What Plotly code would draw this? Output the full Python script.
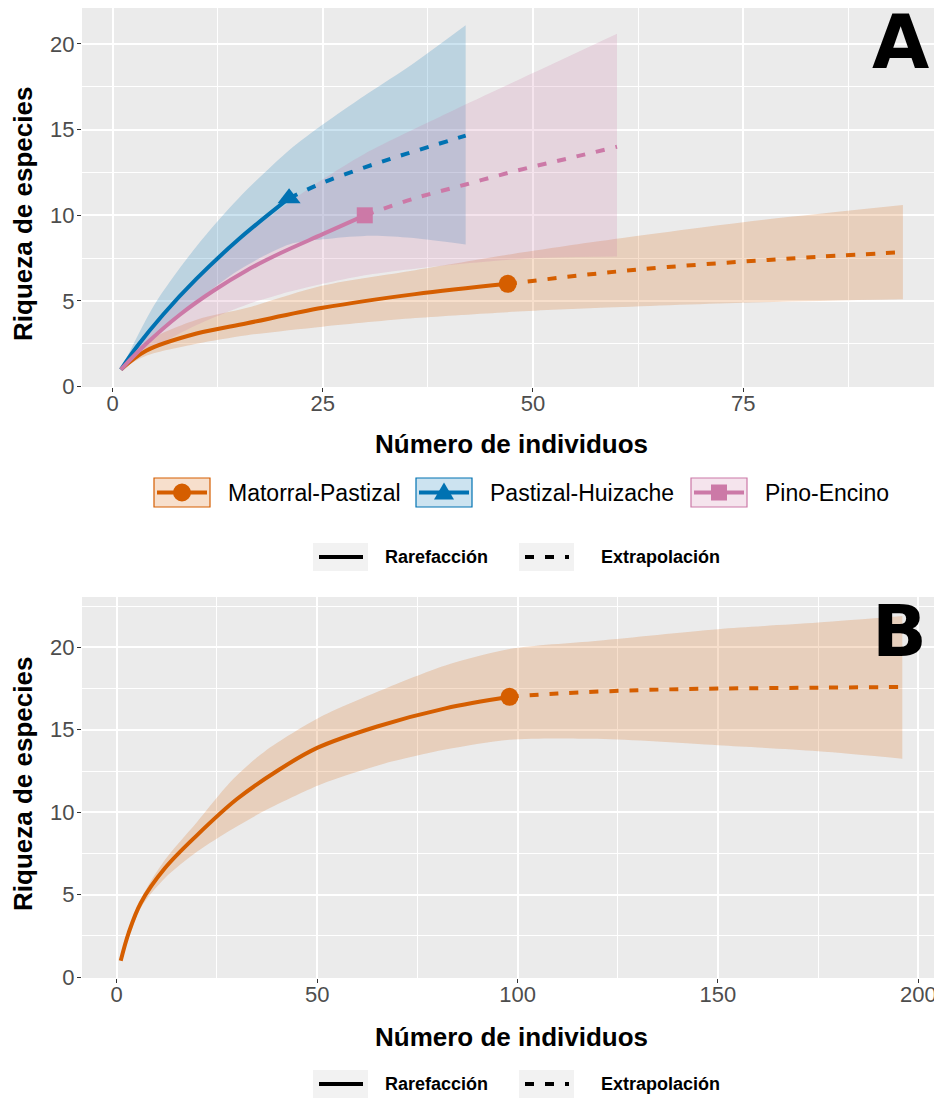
import plotly.graph_objects as go

# ---------------- data (panel A) ----------------
assemblages = ["Matorral-Pastizal", "Pastizal-Huizache", "Pino-Encino"]
colors = ["#D55E00", "#0072B2", "#CC79A7"]
fills = ["rgba(213,94,0,0.2)", "rgba(0,114,178,0.2)", "rgba(204,121,167,0.2)"]
symbols = ["circle", "triangle-up", "square"]
msizes = [18, 20, 16]

mp_rare_x = [1, 4, 10, 16, 25, 36, 47]
mp_rare_y = [1, 2.1, 3.1, 3.7, 4.6, 5.4, 6.0]
mp_extr_x = [47, 58, 66, 75, 84, 94]
mp_extr_y = [6.0, 6.62, 6.98, 7.3, 7.58, 7.85]
mp_rib_x = [1, 4, 10, 16, 25, 36, 47, 58, 75, 94]
mp_rib_hi = [1, 2.6, 3.9, 4.6, 5.9, 6.8, 7.7, 8.5, 9.6, 10.6]
mp_rib_lo = [1, 1.8, 2.5, 3.0, 3.5, 4.0, 4.35, 4.6, 4.9, 5.1]

ph_rare_x = [1, 3, 6, 10, 15, 21]
ph_rare_y = [1, 2.4, 4.2, 6.3, 8.6, 11.0]
ph_extr_x = [21, 25, 30, 35, 42]
ph_extr_y = [11.0, 11.9, 12.8, 13.6, 14.65]
ph_rib_x = [1, 5, 10, 15, 21, 25, 30, 35, 42]
ph_rib_hi = [1, 4.8, 8.2, 11.0, 13.8, 15.3, 17.0, 18.6, 21.1]
ph_rib_lo = [1, 3.0, 5.0, 6.8, 8.3, 8.6, 8.8, 8.7, 8.3]

pe_rare_x = [1, 4, 8, 12, 16, 20, 25, 30]
pe_rare_y = [1, 2.5, 4.2, 5.6, 6.8, 7.8, 8.9, 10.0]
pe_extr_x = [30, 36, 42, 48, 54, 60]
pe_extr_y = [10.0, 11.0, 11.8, 12.6, 13.3, 14.0]
pe_rib_x = [1, 5, 10, 16, 20, 25, 30, 40, 50, 60]
pe_rib_hi = [1, 3.6, 6.3, 8.9, 10.4, 12.1, 13.6, 16.0, 18.3, 20.6]
pe_rib_lo = [1, 2.3, 3.6, 4.8, 5.4, 6.0, 6.5, 7.1, 7.5, 7.6]

# ---------------- data (panel B) ----------------
b_rare_x = [1, 3, 6, 12, 20, 30, 40, 50, 65, 82, 98]
b_rare_y = [1, 2.7, 4.5, 6.6, 8.6, 10.8, 12.5, 13.9, 15.2, 16.3, 17.0]
b_extr_x = [98, 110, 130, 150, 175, 196]
b_extr_y = [17.0, 17.2, 17.4, 17.5, 17.55, 17.6]
b_rib_x = [1, 6, 12, 20, 29, 37, 51, 66, 82, 98, 120, 150, 175, 196]
b_rib_hi = [1, 4.7, 7.1, 9.4, 12.0, 13.7, 15.8, 17.4, 18.9, 19.9, 20.4, 21.1, 21.5, 21.9]
b_rib_lo = [1, 4.2, 6.0, 7.6, 9.0, 10.1, 11.7, 12.9, 13.8, 14.4, 14.45, 14.06, 13.7, 13.25]

x_ticks_a = [0, 25, 50, 75]
x_ticks_b = [0, 50, 100, 150, 200]
y_ticks = [0, 5, 10, 15, 20]
x_title = "Número de individuos"
y_title = "Riqueza de especies"
line_types = ["Rarefacción", "Extrapolación"]

W, H = 934, 1101
def fx(p):
    return p / W
def fy(p):
    return 1 - p / H

FONT = "Liberation Sans"
DASH = "9px,11px"

panel_a = [
    (mp_rare_x, mp_rare_y, mp_extr_x, mp_extr_y, mp_rib_x, mp_rib_hi, mp_rib_lo),
    (ph_rare_x, ph_rare_y, ph_extr_x, ph_extr_y, ph_rib_x, ph_rib_hi, ph_rib_lo),
    (pe_rare_x, pe_rare_y, pe_extr_x, pe_extr_y, pe_rib_x, pe_rib_hi, pe_rib_lo),
]

fig = go.Figure()

def add_ribbon(x, hi, lo, fillc, xa, ya):
    fig.add_trace(go.Scatter(x=x, y=lo, mode="lines", line=dict(width=0, shape="spline", smoothing=0.8),
                             hoverinfo="skip", showlegend=False, xaxis=xa, yaxis=ya))
    fig.add_trace(go.Scatter(x=x, y=hi, mode="lines", fill="tonexty", fillcolor=fillc,
                             line=dict(width=0, shape="spline", smoothing=0.8),
                             hoverinfo="skip", showlegend=False, xaxis=xa, yaxis=ya))

def add_curves(rx, ry, ex, ey, col, sym, ms, name, xa, ya):
    fig.add_trace(go.Scatter(x=ex, y=ey, mode="lines", name=name,
                             line=dict(color=col, width=4, dash=DASH, shape="spline"),
                             showlegend=False, xaxis=xa, yaxis=ya))
    fig.add_trace(go.Scatter(x=rx, y=ry, mode="lines", name=name,
                             line=dict(color=col, width=4, shape="spline"),
                             showlegend=False, xaxis=xa, yaxis=ya))
    fig.add_trace(go.Scatter(x=[rx[-1]], y=[ry[-1]], mode="markers", name=name,
                             marker=dict(symbol=sym, size=ms, color=col),
                             showlegend=False, xaxis=xa, yaxis=ya))

for i, d in enumerate(panel_a):
    add_ribbon(d[4], d[5], d[6], fills[i], "x", "y")
for i, d in enumerate(panel_a):
    add_curves(d[0], d[1], d[2], d[3], colors[i], symbols[i], msizes[i], assemblages[i], "x", "y")

add_ribbon(b_rib_x, b_rib_hi, b_rib_lo, fills[0], "x2", "y2")
add_curves(b_rare_x, b_rare_y, b_extr_x, b_extr_y, colors[0], symbols[0], msizes[0], assemblages[0], "x2", "y2")

tickfont = dict(family=FONT, size=22, color="#4D4D4D")
common = dict(showgrid=True, gridcolor="white", gridwidth=1.6, zeroline=False,
              ticks="outside", ticklen=4, tickwidth=1.4, tickcolor="#333333",
              tickfont=tickfont, showline=False, automargin=False, tickmode="array",
              ticklabeloverflow="allow")
cx_ = dict(common, ticklabelstandoff=-7)
cy_ = dict(common, ticklabelstandoff=-2)

def minor(vals):
    return dict(tickmode="array", tickvals=vals, showgrid=True, gridcolor="white", gridwidth=0.8, ticks="")

fig.update_layout(
    width=W, height=H,
    margin=dict(l=0, r=0, t=0, b=0),
    paper_bgcolor="white", plot_bgcolor="#EBEBEB",
    showlegend=False,
    xaxis=dict(cx_, domain=[fx(82), 1], range=[-3.63, 97.7], tickvals=x_ticks_a, anchor="y",
               minor=minor([12.5, 37.5, 62.5, 87.5])),
    yaxis=dict(cy_, domain=[fy(387), fy(8)], range=[-0.02, 22.1], tickvals=y_ticks, anchor="x",
               minor=minor([2.5, 7.5, 12.5, 17.5])),
    xaxis2=dict(cx_, domain=[fx(82), 1], range=[-8.66, 203.9], tickvals=x_ticks_b, anchor="y2",
                minor=minor([25, 75, 125, 175])),
    yaxis2=dict(cy_, domain=[fy(978), fy(597)], range=[-0.05, 23.05], tickvals=y_ticks, anchor="x2",
                minor=minor([2.5, 7.5, 12.5, 17.5, 22.5])),
)

annotations = []
shapes = []

def text(s, x, y, size, bold=False, color="black", xanchor="center", yanchor="middle", angle=0, family=FONT):
    annotations.append(dict(text=s, x=fx(x), y=fy(y), xref="paper", yref="paper",
                            xanchor=xanchor, yanchor=yanchor, showarrow=False, textangle=angle,
                            font=dict(family=family, size=size, color=color,
                                      weight="bold" if bold else "normal")))

text(x_title, 511.5, 444, 26, bold=True)
text(x_title, 511.5, 1037, 26, bold=True)
text(y_title, 23, 214, 26, bold=True, angle=-90)
text(y_title, 23, 784, 26, bold=True, angle=-90)

text("A", 931, 42, 74, bold=True, xanchor="right", family="DejaVu Sans")
text("B", 929, 631, 72, bold=True, xanchor="right", family="DejaVu Sans")

key_x = [154, 416, 691]
row1 = 492.5
for i in range(3):
    x0 = key_x[i]
    x1 = x0 + 56
    shapes.append(dict(type="rect", xref="paper", yref="paper", x0=fx(x0), x1=fx(x1),
                       y0=fy(507), y1=fy(478), fillcolor=fills[i],
                       line=dict(color=colors[i], width=1.2)))
    shapes.append(dict(type="line", xref="paper", yref="paper", x0=fx(x0 + 3), x1=fx(x1 - 3),
                       y0=fy(row1), y1=fy(row1), line=dict(color=colors[i], width=4)))
    cx = (x0 + x1) / 2
    if symbols[i] == "circle":
        shapes.append(dict(type="circle", xref="paper", yref="paper", x0=fx(cx - 9), x1=fx(cx + 9),
                           y0=fy(row1 + 9), y1=fy(row1 - 9), fillcolor=colors[i], line=dict(width=0)))
    elif symbols[i] == "triangle-up":
        path = "M {} {} L {} {} L {} {} Z".format(fx(cx), fy(row1 - 10), fx(cx - 10), fy(row1 + 7),
                                                  fx(cx + 10), fy(row1 + 7))
        shapes.append(dict(type="path", xref="paper", yref="paper", path=path,
                           fillcolor=colors[i], line=dict(width=0)))
    else:
        shapes.append(dict(type="rect", xref="paper", yref="paper", x0=fx(cx - 8), x1=fx(cx + 8),
                           y0=fy(row1 + 8), y1=fy(row1 - 8), fillcolor=colors[i], line=dict(width=0)))
    text(assemblages[i], x1 + 16, row1, 23, xanchor="left")

for yc in (557, 1084):
    for j, (kx, tx) in enumerate([(313, 383), (519, 599)]):
        shapes.append(dict(type="rect", xref="paper", yref="paper", x0=fx(kx), x1=fx(kx + 55),
                           y0=fy(yc + 14), y1=fy(yc - 14), fillcolor="#F2F2F2", line=dict(width=0)))
        shapes.append(dict(type="line", xref="paper", yref="paper", x0=fx(kx + 6), x1=fx(kx + 50),
                           y0=fy(yc), y1=fy(yc),
                           line=dict(color="black", width=4, dash="solid" if j == 0 else DASH)))
        text(line_types[j], tx, yc, 18, bold=True, xanchor="left")

fig.update_layout(annotations=annotations, shapes=shapes)
fig.write_html(
    "out.html",
    config={"displayModeBar": False},
    post_script="document.body.style.margin='0';document.documentElement.style.overflow='hidden';"
                "document.body.style.overflow='hidden';",
)
